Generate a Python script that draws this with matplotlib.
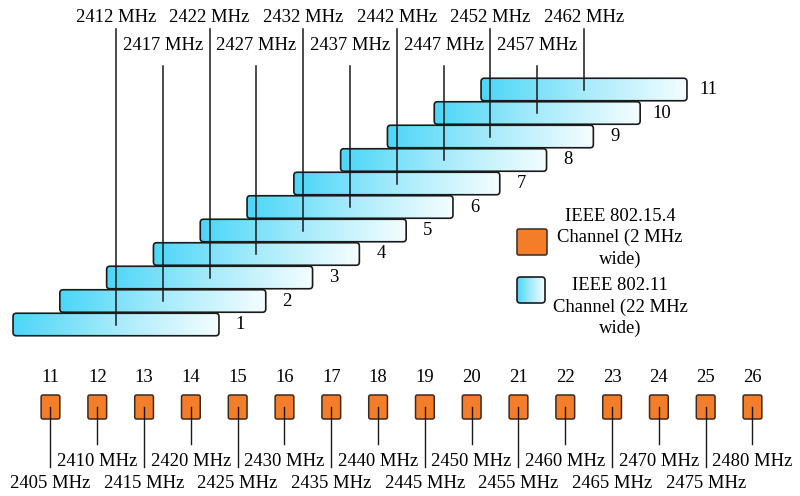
import numpy as np
import matplotlib
matplotlib.use("Agg")
import matplotlib.pyplot as plt
from matplotlib.patches import FancyBboxPatch, Rectangle
from matplotlib.colors import LinearSegmentedColormap

plt.rcParams['font.family'] = ['Liberation Serif', 'DejaVu Serif']

# IEEE 802.11 channels (centre frequency, MHz) and width
wifi_channels = [1, 2, 3, 4, 5, 6, 7, 8, 9, 10, 11]
wifi_freqs = [2412, 2417, 2422, 2427, 2432, 2437, 2442, 2447, 2452, 2457, 2462]
wifi_width = 22

# IEEE 802.15.4 channels (centre frequency, MHz) and width
zb_channels = [11, 12, 13, 14, 15, 16, 17, 18, 19, 20, 21, 22, 23, 24, 25, 26]
zb_freqs = [2405, 2410, 2415, 2420, 2425, 2430, 2435, 2440, 2445,
            2450, 2455, 2460, 2465, 2470, 2475, 2480]
zb_width = 2

legend_labels = ["IEEE 802.15.4\nChannel (2 MHz\nwide)",
                 "IEEE 802.11\nChannel (22 MHz\nwide)"]

# pixel -> MHz scale of the drawing
PX_PER_MHZ = 9.36
X0 = 2412 - 116 / PX_PER_MHZ


def px(x):
    return X0 + x / PX_PER_MHZ


FS = 13.4
orange = '#f47d2a'
cyan_map = LinearSegmentedColormap.from_list('cy', ['#4cd6f7', '#a6ebfb', '#f4fdff'])
grad = np.linspace(0, 1, 256).reshape(1, -1)

fig = plt.figure(figsize=(8, 4.96), dpi=100)
ax = fig.add_axes([0, 0, 1, 1])


def gradient_box(ax, x0, yc, w, h, z):
    patch = FancyBboxPatch((x0, yc - h / 2), w, h,
                           boxstyle="round,pad=0,rounding_size=0.35",
                           mutation_aspect=PX_PER_MHZ,
                           fc='none', ec='#1a1a1a', lw=1.2, zorder=z + 0.5)
    ax.add_patch(patch)
    im = ax.imshow(grad, cmap=cyan_map, aspect='auto',
                   extent=[x0, x0 + w, yc + h / 2, yc - h / 2], zorder=z)
    im.set_clip_path(patch)


# WiFi channels
row_step = 23.5
bar_h = 22.5
for i, (ch, f) in enumerate(zip(wifi_channels, wifi_freqs)):
    yc = 324.5 - row_step * i
    gradient_box(ax, f - wifi_width / 2, yc, wifi_width, bar_h, 2 + i * 0.01)
    ax.text(f + wifi_width / 2 + 2.3, yc, str(ch), fontsize=FS,
            ha='center', va='center', zorder=5)
    if i % 2 == 0:
        ty, ly = 17, 29
    else:
        ty, ly = 46, 66
    ax.plot([f, f], [ly, yc], color='#1a1a1a', lw=1.1, zorder=4)
    ax.text(f, ty, f"{f} MHz", fontsize=FS, ha='center', va='center', zorder=5)

# 802.15.4 channels
sq_y = 407
sq_h = 24
for i, (ch, f) in enumerate(zip(zb_channels, zb_freqs)):
    ax.add_patch(FancyBboxPatch((f - zb_width / 2, sq_y - sq_h / 2), zb_width, sq_h,
                                boxstyle="round,pad=0,rounding_size=0.2",
                                mutation_aspect=PX_PER_MHZ,
                                fc=orange, ec='#3a2a20', lw=1.1, zorder=2))
    ax.text(f, 378, str(ch), fontsize=FS, ha='center', va='center', zorder=5)
    if i % 2 == 0:
        ly, ty = 467, 484
    else:
        ly, ty = 444, 461
    ax.plot([f, f], [sq_y, ly], color='#1a1a1a', lw=1.0, zorder=3)
    ax.text(f, ty, f"{f} MHz", fontsize=FS, ha='center', va='center', zorder=5)

# legend
ax.add_patch(FancyBboxPatch((px(517), 229), px(547) - px(517), 26,
                            boxstyle="round,pad=0,rounding_size=0.2",
                            mutation_aspect=PX_PER_MHZ,
                            fc=orange, ec='#3a2a20', lw=1.1, zorder=2))
gradient_box(ax, px(517), 290, px(545) - px(517), 26, 2)
ax.text(px(620), 238, legend_labels[0], fontsize=FS, ha='center', va='center',
        linespacing=1.35, zorder=5)
ax.text(px(620), 307, legend_labels[1], fontsize=FS, ha='center', va='center',
        linespacing=1.35, zorder=5)

ax.set_xlim(px(0), px(800))
ax.set_ylim(496, 0)
ax.axis('off')

fig.savefig('out.png', dpi=100, facecolor='white')
